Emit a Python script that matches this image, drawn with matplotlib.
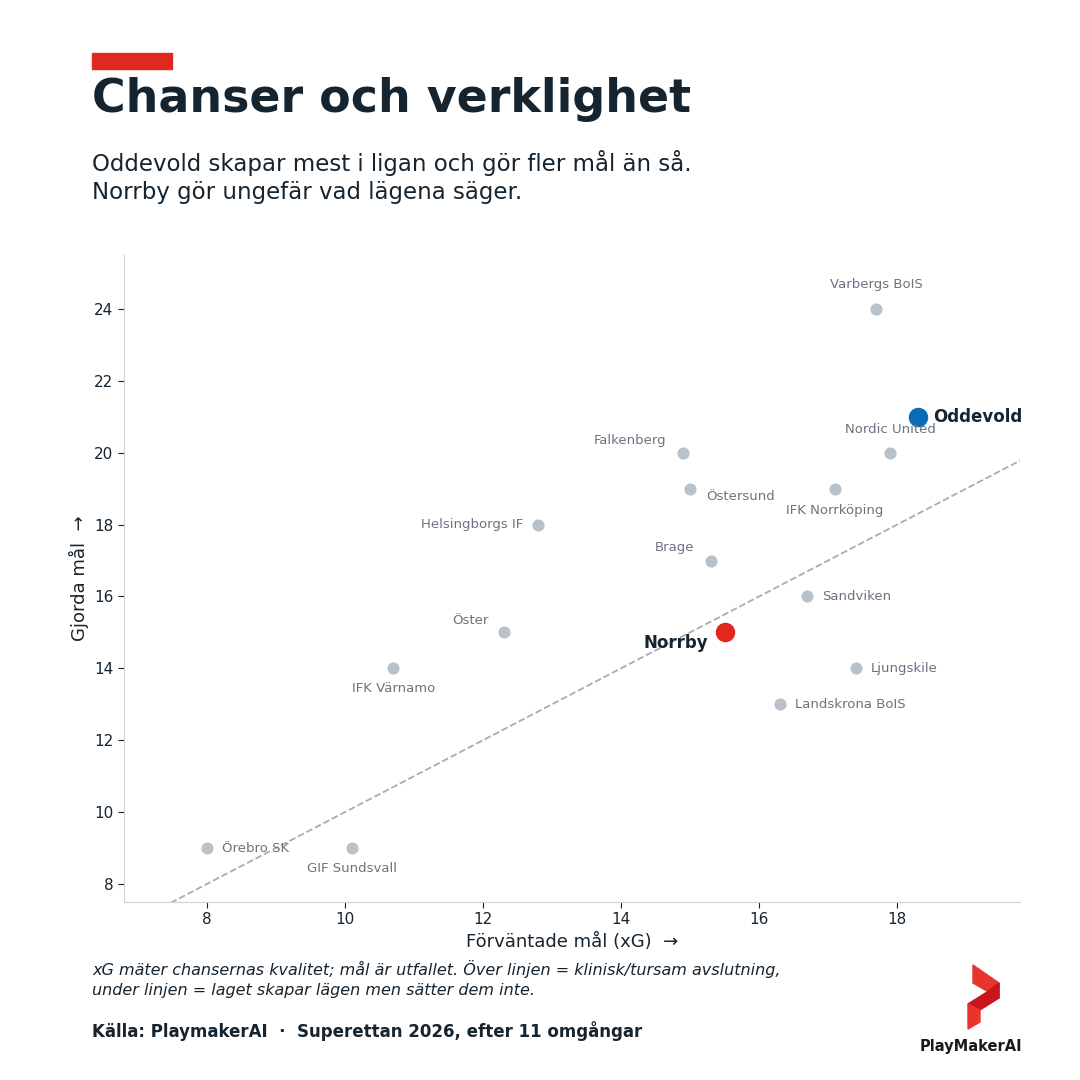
import matplotlib.pyplot as plt
from matplotlib.patches import Polygon, Rectangle

lag = ['Varbergs BoIS', 'Oddevold', 'Nordic United', 'Falkenberg', 'Östersund',
       'IFK Norrköping', 'Helsingborgs IF', 'Brage', 'Sandviken', 'Öster', 'Norrby',
       'IFK Värnamo', 'Ljungskile', 'Landskrona BoIS', 'Örebro SK', 'GIF Sundsvall']
xg = [17.7, 18.3, 17.9, 14.9, 15.0, 17.1, 12.8, 15.3, 16.7, 12.3, 15.5, 10.7, 17.4, 16.3, 8.0, 10.1]
mal = [24, 21, 20, 20, 19, 19, 18, 17, 16, 15, 15, 14, 14, 13, 9, 9]

# label placement (dx px, dy px, ha, va)
plac = {
    'Varbergs BoIS': (0, 24, 'center', 'center'),
    'Oddevold': (15, 0, 'left', 'center'),
    'Nordic United': (0, 23, 'center', 'center'),
    'Falkenberg': (-17, 12, 'right', 'center'),
    'Östersund': (16, -8, 'left', 'center'),
    'IFK Norrköping': (0, -22, 'center', 'center'),
    'Helsingborgs IF': (-15, 0, 'right', 'center'),
    'Brage': (-16, 13, 'right', 'center'),
    'Sandviken': (15, 0, 'left', 'center'),
    'Öster': (-15, 12, 'right', 'center'),
    'Norrby': (-16, -11, 'right', 'center'),
    'IFK Värnamo': (0, -20, 'center', 'center'),
    'Ljungskile': (15, 0, 'left', 'center'),
    'Landskrona BoIS': (15, 0, 'left', 'center'),
    'Örebro SK': (15, 0, 'left', 'center'),
    'GIF Sundsvall': (0, -20, 'center', 'center'),
}

dark = '#16242f'
gray = '#6b7280'

fig = plt.figure(figsize=(10.8, 10.8), dpi=100)
ax = fig.add_axes([124/1080, 1 - 902/1080, (1020-124)/1080, (902-255)/1080])

ax.plot([6, 21], [6, 21], ls='--', color='#a7adb5', lw=1.3, zorder=1)

for n, x, y in zip(lag, xg, mal):
    dx, dy, ha, va = plac[n]
    if n == 'Oddevold':
        ax.scatter(x, y, s=170, color='#0b6bb5', zorder=3)
        ax.annotate(n, (x, y), xytext=(dx*0.72, dy*0.72), textcoords='offset points',
                    ha=ha, va=va, fontsize=12, fontweight='bold', color=dark)
    elif n == 'Norrby':
        ax.scatter(x, y, s=170, color='#e0281e', zorder=3)
        ax.annotate(n, (x, y), xytext=(dx*0.72, dy*0.72), textcoords='offset points',
                    ha=ha, va=va, fontsize=12, fontweight='bold', color=dark)
    else:
        ax.scatter(x, y, s=60, color='#b9c2cb', zorder=2)
        ax.annotate(n, (x, y), xytext=(dx*0.72, dy*0.72), textcoords='offset points',
                    ha=ha, va=va, fontsize=9.5, color=gray)

ax.set_xlim(6.8, 19.78)
ax.set_ylim(7.5, 25.5)
ax.set_xticks([8, 10, 12, 14, 16, 18])
ax.set_yticks([8, 10, 12, 14, 16, 18, 20, 22, 24])
ax.tick_params(labelsize=11, colors=dark, length=4)
for s in ['top', 'right']:
    ax.spines[s].set_visible(False)
for s in ['left', 'bottom']:
    ax.spines[s].set_color('#cfd3d8')
ax.set_xlabel('Förväntade mål (xG)  →', fontsize=13, color=dark)
ax.set_ylabel('Gjorda mål  →', fontsize=13, color=dark)

fig.patches.append(Rectangle((92/1080, 1-69/1080), 80/1080, 16/1080,
                             transform=fig.transFigure, color='#e0281e'))
fig.text(92/1080, 1-100/1080, 'Chanser och verklighet', fontsize=33, fontweight='bold',
         color=dark, va='center')
fig.text(92/1080, 1-177/1080, 'Oddevold skapar mest i ligan och gör fler mål än så.\nNorrby gör ungefär vad lägena säger.',
         fontsize=16.5, color=dark, va='center', linespacing=1.3)
fig.text(92/1080, 1-979/1080, 'xG mäter chansernas kvalitet; mål är utfallet. Över linjen = klinisk/tursam avslutning,\nunder linjen = laget skapar lägen men sätter dem inte.',
         fontsize=11.5, style='italic', color=dark, va='center', linespacing=1.4)
fig.text(92/1080, 1-1031/1080, 'Källa: PlaymakerAI  ·  Superettan 2026, efter 11 omgångar',
         fontsize=12, fontweight='bold', color=dark, va='center')

# logo
def fp(pts):
    return [(px/1080, 1-py/1080) for px, py in pts]
fig.patches.append(Polygon(fp([(973, 965), (999, 983), (999, 998), (973, 983)]),
                           transform=fig.transFigure, color='#e8342c'))
fig.patches.append(Polygon(fp([(999, 998), (980, 1010), (968, 1004), (987, 992), (999, 983)]),
                           transform=fig.transFigure, color='#c8151c'))
fig.patches.append(Polygon(fp([(968, 1004), (980, 1010), (980, 1022), (968, 1029)]),
                           transform=fig.transFigure, color='#e8342c'))
fig.text(1022/1080, 1-1047/1080, 'PlayMakerAI', fontsize=10.5, fontweight='bold',
         color='#1a1a1a', ha='right', va='center')

fig.savefig('out.png', dpi=100, facecolor='white')
